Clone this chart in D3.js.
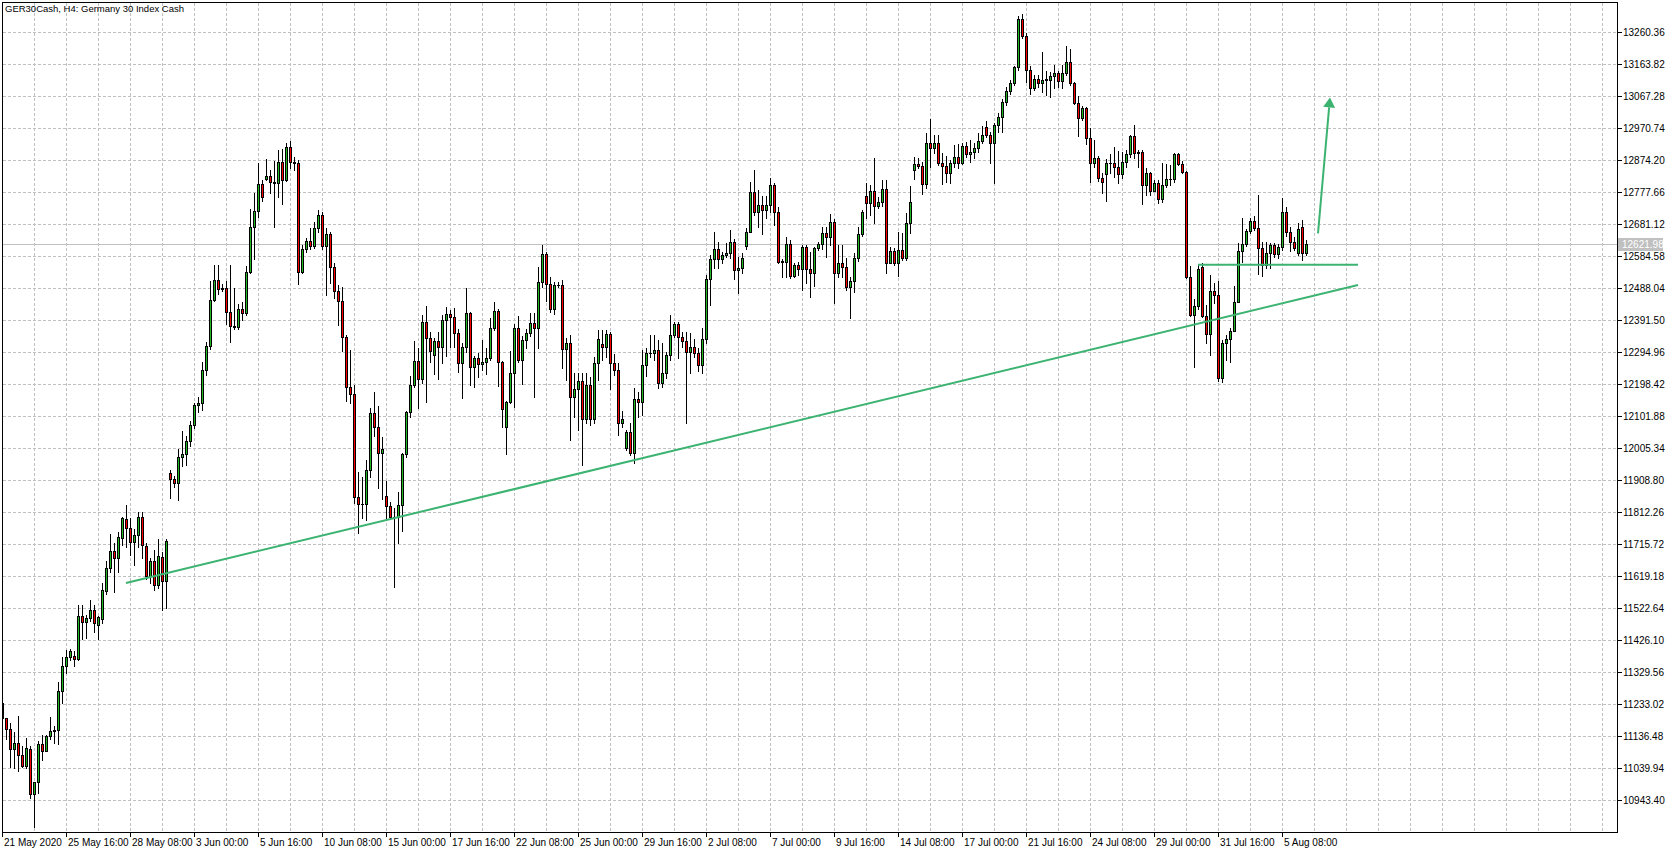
<!DOCTYPE html>
<html><head><meta charset="utf-8">
<script src="https://cdn.jsdelivr.net/npm/d3@7"></script>
<style>
html,body{margin:0;padding:0;background:#fff;overflow:hidden}
svg{display:block}
text{font-family:"Liberation Sans",Arial,sans-serif;font-size:10px;fill:#000}
</style></head><body>
<svg id="chart" width="1675" height="853"></svg>
<script>
const chartTitle = "GER30Cash, H4:  Germany 30 Index Cash";

// OHLC rows, one per H4 bar (bar 0 = 21 May 2020 00:00)
const ohlc = [
[11236,11240,11188,11191],[11190,11191,11127,11157],[11157,11175,11044,11096],[11096,11149,11039,11114],
[11114,11197,11032,11078],[11078,11106,11044,11047],[11047,11131,11039,11099],[11096,11106,10950,10961],
[10961,10999,10863,10999],[10999,11121,10965,11111],[11111,11139,11064,11092],[11092,11140,11090,11136],
[11136,11194,11128,11152],[11152,11167,11114,11155],[11155,11299,11113,11271],[11271,11375,11237,11349],
[11349,11396,11327,11374],[11374,11399,11366,11394],[11378,11392,11348,11369],[11369,11531,11366,11497],
[11497,11531,11429,11479],[11479,11503,11432,11493],[11493,11548,11483,11517],[11517,11531,11450,11477],
[11472,11497,11429,11494],[11490,11598,11477,11578],[11574,11665,11564,11642],[11642,11746,11631,11695],
[11695,11719,11571,11672],[11672,11753,11631,11737],[11734,11796,11712,11793],[11791,11833,11706,11763],
[11763,11793,11683,11723],[11723,11760,11651,11742],[11742,11813,11706,11797],[11797,11813,11672,11712],
[11710,11719,11611,11618],[11618,11672,11598,11665],[11665,11699,11578,11591],[11591,11732,11584,11679],
[11677,11692,11517,11604],[11604,11730,11524,11726],[11930,11938,11854,11912],[11912,11921,11888,11901],
[11901,12002,11847,11978],[11978,12056,11952,11988],[11988,12042,11955,12025],[12025,12087,12011,12076],
[12076,12141,12065,12136],[12136,12159,12114,12140],[12140,12265,12119,12242],[12242,12325,12227,12314],
[12314,12510,12305,12453],[12453,12558,12450,12513],[12513,12558,12469,12485],[12486,12500,12480,12489],
[12489,12510,12379,12415],[12415,12558,12325,12372],[12372,12487,12365,12371],[12371,12439,12365,12426],
[12426,12446,12392,12413],[12413,12554,12406,12536],[12536,12725,12534,12671],[12671,12776,12577,12719],
[12719,12864,12702,12803],[12803,12814,12749,12763],[12817,12877,12814,12826],[12826,12843,12776,12807],
[12807,12870,12671,12806],[12806,12904,12763,12868],[12868,12908,12742,12814],[12814,12924,12810,12913],
[12913,12931,12850,12868],[12868,12884,12843,12864],[12864,12874,12500,12536],[12536,12618,12532,12605],
[12605,12638,12598,12631],[12631,12669,12605,12615],[12615,12687,12608,12669],[12669,12723,12657,12708],
[12708,12717,12605,12615],[12615,12669,12467,12651],[12651,12658,12504,12551],[12551,12563,12457,12480],
[12480,12497,12376,12450],[12450,12492,12299,12339],[12339,12346,12148,12189],[12189,12301,12140,12167],
[12167,12195,11839,11858],[11858,11934,11750,11836],[11836,11919,11793,11837],[11837,11969,11788,11939],
[11939,12125,11919,12112],[12112,12173,12042,12068],[12068,12133,11884,11989],[11989,12039,11851,12001],
[11861,11907,11793,11830],[11830,11843,11793,11796],[11796,11824,11587,11798],[11798,11874,11718,11833],
[11833,11990,11756,11986],[11986,12118,11979,12114],[12114,12223,12100,12195],[12195,12328,12189,12269],
[12269,12306,12127,12214],[12214,12407,12202,12385],[12385,12434,12145,12338],[12338,12356,12264,12299],
[12285,12336,12229,12328],[12328,12356,12214,12311],[12311,12407,12263,12392],[12392,12432,12283,12409],
[12409,12422,12311,12401],[12401,12427,12311,12351],[12351,12364,12236,12261],[12261,12321,12155,12311],
[12311,12487,12296,12414],[12414,12417,12195,12249],[12249,12283,12189,12276],[12276,12291,12220,12258],
[12258,12331,12241,12266],[12266,12306,12229,12278],[12278,12397,12271,12367],[12367,12447,12361,12419],
[12419,12424,12192,12264],[12264,12269,12068,12122],[12070,12148,11987,12143],[12143,12299,12140,12231],
[12231,12379,12130,12367],[12367,12404,12266,12271],[12271,12343,12198,12331],[12331,12364,12306,12351],
[12351,12414,12343,12383],[12383,12412,12158,12367],[12367,12551,12306,12505],[12505,12618,12490,12591],
[12591,12598,12450,12500],[12500,12522,12417,12425],[12425,12507,12410,12497],[12497,12507,12491,12498],
[12498,12512,12246,12303],[12303,12336,12210,12321],[12321,12346,12030,12160],[12160,12233,12099,12182],
[12182,12232,12060,12208],[12208,12231,11954,12092],[12092,12231,12080,12195],[12195,12220,12075,12094],
[12094,12281,12080,12261],[12261,12361,12211,12333],[12320,12361,12271,12311],[12311,12361,12281,12348],
[12348,12356,12182,12261],[12261,12289,12226,12241],[12241,12261,12045,12082],[12082,12117,12070,12092],
[12004,12060,11999,12055],[12055,12080,11984,11989],[11989,12186,11959,12152],[12152,12175,12100,12143],
[12143,12301,12105,12256],[12256,12306,12223,12291],[12291,12346,12281,12293],[12293,12346,12271,12301],
[12301,12331,12186,12201],[12201,12323,12190,12231],[12231,12296,12216,12286],[12286,12407,12271,12346],
[12346,12386,12341,12379],[12379,12386,12276,12341],[12341,12356,12311,12329],[12329,12356,12080,12296],
[12296,12351,12231,12309],[12309,12333,12281,12291],[12291,12306,12239,12256],[12256,12367,12231,12333],
[12333,12527,12321,12514],[12514,12588,12437,12575],[12575,12658,12548,12605],[12605,12628,12548,12576],
[12576,12598,12563,12588],[12588,12623,12583,12593],[12593,12663,12578,12626],[12626,12635,12514,12542],
[12542,12583,12472,12549],[12549,12593,12534,12578],[12615,12668,12605,12658],[12658,12809,12658,12777],
[12777,12844,12708,12717],[12717,12784,12671,12739],[12739,12766,12651,12723],[12723,12766,12698,12739],
[12739,12819,12718,12799],[12799,12806,12678,12716],[12716,12732,12564,12566],[12569,12575,12522,12566],
[12566,12643,12522,12620],[12620,12633,12517,12524],[12524,12563,12522,12558],[12558,12567,12527,12545],
[12545,12618,12482,12613],[12613,12618,12502,12545],[12545,12598,12460,12534],[12534,12613,12494,12608],
[12608,12628,12603,12621],[12621,12673,12605,12653],[12653,12673,12583,12643],[12643,12711,12618,12687],
[12687,12695,12444,12534],[12534,12618,12522,12563],[12563,12618,12522,12551],[12551,12578,12482,12492],
[12492,12522,12397,12510],[12510,12593,12477,12578],[12578,12673,12570,12651],[12651,12723,12645,12718],
[12766,12804,12698,12745],[12745,12799,12708,12781],[12781,12879,12683,12735],[12735,12764,12729,12748],
[12748,12814,12735,12786],[12786,12814,12532,12564],[12564,12613,12562,12599],[12599,12608,12557,12564],
[12564,12658,12524,12603],[12603,12653,12572,12578],[12578,12713,12572,12683],[12683,12796,12653,12748],
[12844,12884,12817,12862],[12862,12879,12849,12857],[12857,12869,12771,12802],[12802,12955,12789,12925],
[12925,12998,12854,12910],[12910,12950,12896,12925],[12925,12950,12859,12866],[12866,12894,12802,12857],
[12857,12886,12809,12834],[12834,12874,12804,12864],[12864,12920,12854,12882],[12882,12923,12849,12864],
[12864,12925,12862,12916],[12916,12929,12884,12892],[12892,12935,12869,12899],[12899,12925,12879,12910],
[12910,12957,12899,12932],[12932,12977,12926,12950],[12973,12993,12945,12950],[12950,12960,12864,12925],
[12925,12985,12806,12980],[12980,13017,12960,13003],[13003,13057,12960,13048],[13048,13094,13040,13083],
[13083,13116,13073,13107],[13107,13159,13101,13154],[13154,13309,13146,13299],[13299,13315,13241,13248],
[13248,13258,13110,13146],[13146,13158,13073,13091],[13091,13131,13085,13118],[13118,13131,13094,13107],
[13107,13201,13080,13116],[13116,13144,13070,13119],[13116,13141,13063,13128],[13128,13161,13091,13138],
[13138,13144,13094,13113],[13113,13161,13091,13136],[13136,13218,13131,13169],[13169,13208,13101,13106],
[13106,13110,13043,13045],[13045,13067,12947,13000],[13000,13037,12995,13030],[13030,13033,12923,12940],
[12940,12970,12809,12866],[12866,12935,12854,12879],[12879,12886,12812,12819],[12819,12836,12774,12809],
[12832,12876,12751,12864],[12864,12892,12834,12865],[12865,12913,12824,12852],[12852,12902,12806,12832],
[12832,12899,12819,12867],[12867,12904,12854,12892],[12892,12950,12882,12947],[12947,12980,12879,12896],
[12896,12904,12854,12897],[12897,12904,12742,12798],[12798,12849,12769,12834],[12834,12839,12769,12782],
[12782,12814,12780,12806],[12806,12814,12744,12756],[12756,12864,12748,12799],[12799,12862,12794,12816],
[12816,12859,12799,12817],[12817,12896,12809,12892],[12892,12896,12859,12862],[12862,12872,12834,12839],
[12839,12842,12517,12520],[12520,12554,12405,12408],[12408,12455,12251,12434],[12434,12560,12425,12545],
[12552,12563,12400,12405],[12405,12437,12321,12350],[12350,12527,12286,12479],[12479,12504,12443,12467],
[12467,12510,12207,12217],[12217,12331,12205,12321],[12321,12346,12271,12333],[12333,12367,12266,12359],
[12359,12494,12359,12445],[12445,12623,12445,12599],[12599,12698,12567,12620],[12620,12665,12615,12660],
[12660,12698,12655,12691],[12691,12706,12663,12670],[12670,12769,12530,12608],[12608,12628,12524,12557],
[12557,12628,12548,12593],[12593,12623,12548,12618],[12618,12623,12583,12591],[12591,12620,12578,12611],
[12611,12759,12603,12716],[12716,12733,12645,12658],[12658,12671,12601,12628],[12628,12643,12603,12610],
[12595,12683,12588,12665],[12672,12693,12573,12593],[12593,12632,12588,12621.98]
];
const openP  = ohlc.map(r => r[0]);
const highP  = ohlc.map(r => r[1]);
const lowP   = ohlc.map(r => r[2]);
const closeP = ohlc.map(r => r[3]);

const priceTicks = [13260.36,13163.82,13067.28,12970.74,12874.20,12777.66,12681.12,12584.58,12488.04,
  12391.50,12294.96,12198.42,12101.88,12005.34,11908.80,11812.26,11715.72,11619.18,11522.64,11426.10,
  11329.56,11233.02,11136.48,11039.94,10943.40];
const timeLabels = ["21 May 2020","25 May 16:00","28 May 08:00","3 Jun 00:00","5 Jun 16:00","10 Jun 08:00",
  "15 Jun 00:00","17 Jun 16:00","22 Jun 08:00","25 Jun 00:00","29 Jun 16:00","2 Jul 08:00","7 Jul 00:00",
  "9 Jul 16:00","14 Jul 08:00","17 Jul 00:00","21 Jul 16:00","24 Jul 08:00","29 Jul 00:00","31 Jul 16:00",
  "5 Aug 08:00"];
const timeLabelBars = [0,16,32,48,64,80,96,112,128,144,160,176,192,208,224,240,256,272,288,304,320];
const currentPrice = 12621.98;

// hand-drawn objects (bar index, price)
const trendBars = [31, 339],   trendPrices = [11598, 12497];
const levelBars = [299, 339],  levelPrices = [12560, 12560];
const arrowBars = [329, 332],  arrowPrices = [12653, 13063];

// ---------------- drawing ----------------
const L = 2, R = 1617, T = 2, B = 832;
const bullColor = "#22b822", bearColor = "#ff0000", objColor = "#3cb371", gridColor = "#c0c0c0";

const x = d3.scaleLinear().domain([0, 403.75]).range([L, R]);
const y = d3.scaleLinear().domain([priceTicks[0], priceTicks[priceTicks.length-1]]).range([32, 800]);
const px = v => Math.round(x(v));
const py = v => Math.round(y(v));

const svg = d3.select("#chart");
svg.append("rect").attr("width",1675).attr("height",853).attr("fill","#fff");
svg.append("defs").append("clipPath").attr("id","plot")
  .append("rect").attr("x",L+1).attr("y",T+1).attr("width",R-L-1).attr("height",B-T-1);

const grid = svg.append("g").attr("shape-rendering","crispEdges").attr("clip-path","url(#plot)");
const gridBars = d3.range(8, 404, 8);
grid.selectAll("line.v").data(gridBars).join("line").attr("class","v")
  .attr("x1", d => px(d)+0.5).attr("x2", d => px(d)+0.5)
  .attr("y1", T+1).attr("y2", B)
  .attr("stroke", gridColor).attr("stroke-dasharray","3,2");
grid.selectAll("line.h").data(priceTicks).join("line").attr("class","h")
  .attr("x1", L+1).attr("x2", R)
  .attr("y1", d => py(d)+0.5).attr("y2", d => py(d)+0.5)
  .attr("stroke", gridColor).attr("stroke-dasharray","3,2");

// current price line
grid.append("line").attr("x1",L+1).attr("x2",R)
  .attr("y1", py(currentPrice)+0.5).attr("y2", py(currentPrice)+0.5)
  .attr("stroke","#c0c0c0");

// candles
const bars = openP.map((o,i) => ({i, o, h: highP[i], l: lowP[i], c: closeP[i]}));
const cg = svg.append("g").attr("shape-rendering","crispEdges").attr("clip-path","url(#plot)");
const candle = cg.selectAll("g.c").data(bars).join("g").attr("class","c");
candle.append("rect")
  .attr("x", d => px(d.i)).attr("width", 1)
  .attr("y", d => py(d.h))
  .attr("height", d => Math.max(1, py(d.l) - py(d.h) + 1))
  .attr("fill","#000");
candle.append("rect")
  .attr("x", d => px(d.i)-1).attr("width", 3)
  .attr("y", d => py(Math.max(d.o,d.c)))
  .attr("height", d => py(Math.min(d.o,d.c)) - py(Math.max(d.o,d.c)) + 1)
  .attr("fill","#000");
candle.filter(d => py(Math.min(d.o,d.c)) - py(Math.max(d.o,d.c)) >= 2).append("rect")
  .attr("x", d => px(d.i)).attr("width", 1)
  .attr("y", d => py(Math.max(d.o,d.c)) + 1)
  .attr("height", d => py(Math.min(d.o,d.c)) - py(Math.max(d.o,d.c)) - 1)
  .attr("fill", d => d.c >= d.o ? bullColor : bearColor);

// drawn objects
const og = svg.append("g").attr("clip-path","url(#plot)");
og.append("line").attr("x1", x(trendBars[0])).attr("y1", y(trendPrices[0]))
  .attr("x2", x(trendBars[1])).attr("y2", y(trendPrices[1]))
  .attr("stroke", objColor).attr("stroke-width", 2);
og.append("line").attr("x1", x(levelBars[0])).attr("y1", y(levelPrices[0])+0.5)
  .attr("x2", x(levelBars[1])).attr("y2", y(levelPrices[1])+0.5)
  .attr("stroke", objColor).attr("stroke-width", 2);
{
  const x1 = x(arrowBars[0]), y1 = y(arrowPrices[0]), x2 = x(arrowBars[1]), y2 = y(arrowPrices[1]);
  const ang = Math.atan2(y2-y1, x2-x1), hl = 10, hw = 6;
  const bx = x2 - hl*Math.cos(ang), by = y2 - hl*Math.sin(ang);
  og.append("line").attr("x1",x1).attr("y1",y1).attr("x2",bx).attr("y2",by)
    .attr("stroke", objColor).attr("stroke-width", 2);
  const nx = -Math.sin(ang), ny = Math.cos(ang);
  og.append("path").attr("d", `M${x2},${y2}L${bx+nx*hw},${by+ny*hw}L${bx-nx*hw},${by-ny*hw}Z`)
    .attr("fill", objColor);
}

// frame
const fg = svg.append("g").attr("shape-rendering","crispEdges");
fg.append("rect").attr("x",L+0.5).attr("y",T+0.5).attr("width",R-L).attr("height",B-T)
  .attr("fill","none").attr("stroke","#000");

// price axis
const pa = svg.append("g");
pa.selectAll("line").data(priceTicks).join("line").attr("shape-rendering","crispEdges")
  .attr("x1", R+1).attr("x2", R+5).attr("y1", d => py(d)+0.5).attr("y2", d => py(d)+0.5).attr("stroke","#000");
pa.selectAll("text").data(priceTicks).join("text")
  .attr("x", R+6).attr("y", d => py(d)+4).text(d => d3.format(".2f")(d));
pa.append("rect").attr("x", R+1).attr("y", py(currentPrice)-6).attr("width", 45).attr("height", 13).attr("fill","#c0c0c0");
pa.append("text").attr("x", R+5).attr("y", py(currentPrice)+4).style("fill","#fff").text(d3.format(".2f")(currentPrice));

// time axis
const ta = svg.append("g");
ta.selectAll("line").data(timeLabelBars).join("line").attr("shape-rendering","crispEdges")
  .attr("x1", d => px(d)+0.5).attr("x2", d => px(d)+0.5).attr("y1", B+1).attr("y2", B+5).attr("stroke","#000");
ta.selectAll("text").data(timeLabels).join("text")
  .attr("x", (d,k) => px(timeLabelBars[k]) + 2).attr("y", B+14).text(d => d);

// title
svg.append("text").attr("x", 5).attr("y", 12).style("font-size","9.5px").text(chartTitle);
</script>
</body></html>
